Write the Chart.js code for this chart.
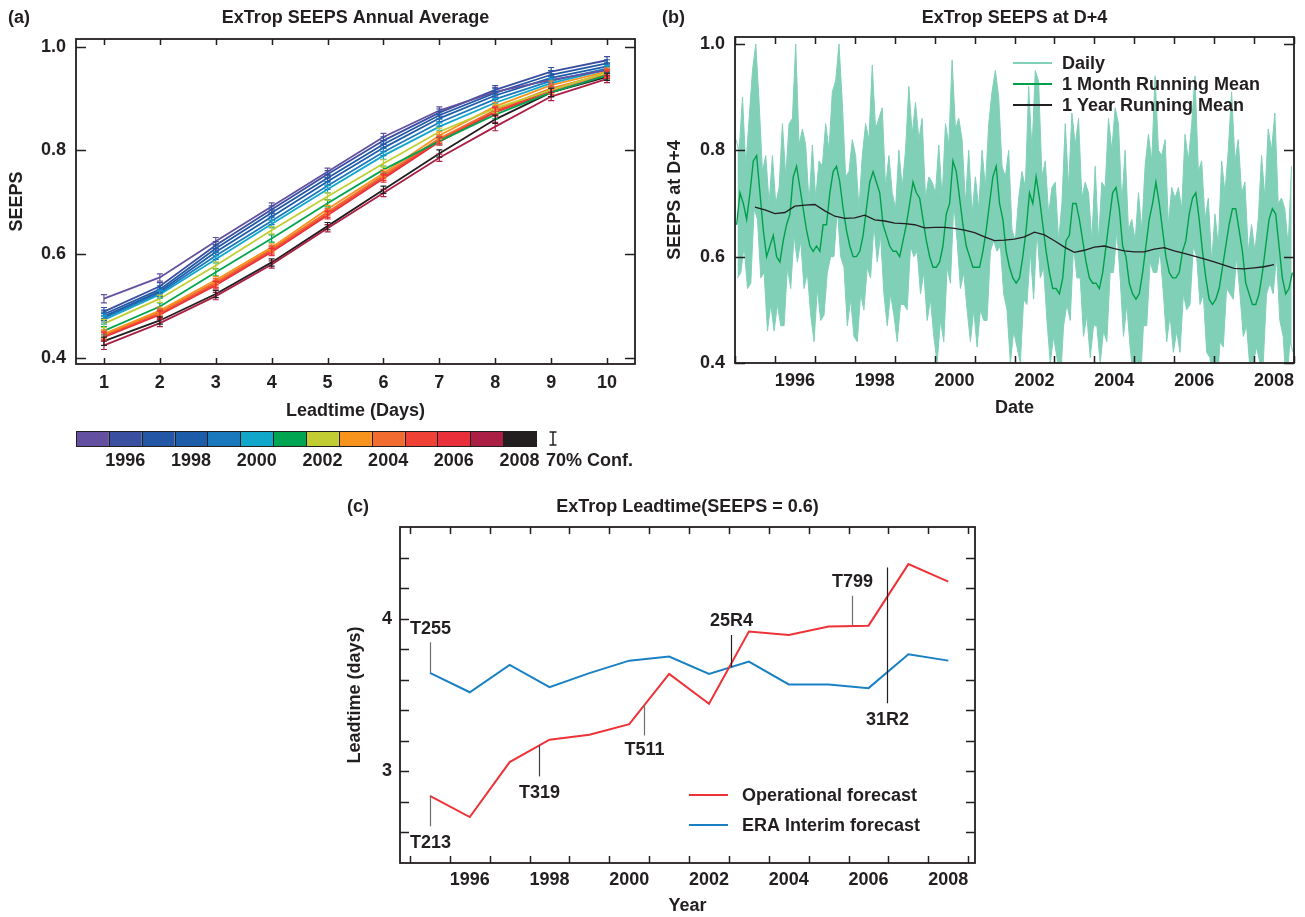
<!DOCTYPE html>
<html>
<head>
<meta charset="utf-8">
<title>ExTrop SEEPS</title>
<script src="https://cdn.jsdelivr.net/npm/chart.js@4.4.0/dist/chart.umd.min.js"></script>
<style>
  html, body { margin: 0; padding: 0; background: #ffffff; }
  body { width: 1305px; height: 917px; position: relative; overflow: hidden; }
  canvas { position: absolute; }
</style>
</head>
<body>
<canvas id="annualChart" width="660" height="480" style="left:0;top:0"></canvas>
<canvas id="dailyChart" width="645" height="430" style="left:660px;top:0"></canvas>
<canvas id="leadtimeChart" width="660" height="427" style="left:330px;top:490px"></canvas>
<script>
// ---------- (a) annual average SEEPS by lead time ----------
const leadDays = [1, 2, 3, 4, 5, 6, 7, 8, 9, 10];
const seasonYears = [1995, 1996, 1997, 1998, 1999, 2000, 2001, 2002, 2003, 2004, 2005, 2006, 2007, 2008];
const yearColors = ["#6350a1", "#3b4fa0", "#2357a6", "#1d5ca9", "#1a78bd", "#11a7cb", "#00a551",
    "#c1cd32", "#f7941e", "#f26b2f", "#ef4136", "#e9303a", "#aa1f43", "#231f20"];
const seeps1995 = [0.514, 0.555, 0.625, 0.692, 0.759, 0.826, 0.877, 0.913, 0.936, 0.955];
const seeps1996 = [0.489, 0.538, 0.617, 0.686, 0.754, 0.819, 0.873, 0.917, 0.952, 0.974];
const seeps1997 = [0.484, 0.532, 0.611, 0.680, 0.747, 0.812, 0.868, 0.911, 0.946, 0.968];
const seeps1998 = [0.480, 0.528, 0.604, 0.672, 0.740, 0.805, 0.862, 0.906, 0.940, 0.962];
const seeps1999 = [0.477, 0.525, 0.597, 0.664, 0.732, 0.797, 0.854, 0.899, 0.934, 0.958];
const seeps2000 = [0.473, 0.522, 0.590, 0.658, 0.725, 0.790, 0.846, 0.892, 0.930, 0.956];
const seeps2001 = [0.452, 0.499, 0.565, 0.630, 0.698, 0.763, 0.818, 0.869, 0.912, 0.945];
const seeps2002 = [0.466, 0.514, 0.578, 0.646, 0.711, 0.775, 0.836, 0.881, 0.917, 0.950];
const seeps2003 = [0.446, 0.491, 0.550, 0.613, 0.687, 0.756, 0.829, 0.885, 0.926, 0.952];
const seeps2004 = [0.444, 0.488, 0.546, 0.610, 0.681, 0.752, 0.823, 0.878, 0.920, 0.948];
const seeps2005 = [0.442, 0.485, 0.543, 0.607, 0.678, 0.749, 0.820, 0.876, 0.916, 0.950];
const seeps2006 = [0.440, 0.483, 0.540, 0.604, 0.675, 0.746, 0.817, 0.874, 0.912, 0.946];
const seeps2007 = [0.424, 0.467, 0.519, 0.580, 0.650, 0.718, 0.786, 0.846, 0.904, 0.938];
const seeps2008 = [0.432, 0.472, 0.523, 0.584, 0.654, 0.724, 0.794, 0.860, 0.912, 0.942];
const annualSeries = [seeps1995, seeps1996, seeps1997, seeps1998, seeps1999, seeps2000, seeps2001,
    seeps2002, seeps2003, seeps2004, seeps2005, seeps2006, seeps2007, seeps2008];
// half width of the 70% confidence interval per lead day
const confHalfWidth = [0.008, 0.007, 0.007, 0.007, 0.007, 0.007, 0.007, 0.008, 0.008, 0.007];
const seepsTicks = [0.4, 0.6, 0.8, 1.0];
const colorbarLabels = [1996, 1998, 2000, 2002, 2004, 2006, 2008];

// ---------- (b) SEEPS at D+4 time series ----------
const seriesStart = 1995;
// two samples per month (peak, dip) of the daily score
const dailySeeps = [
    0.82,0.56, 0.80,0.57, 0.90,0.62, 0.77,0.54, 0.86,0.55, 0.95,0.69, 1.00,0.67, 0.89,0.56, 0.76,0.57, 0.79,0.46, 0.70,0.51, 0.79,0.46,
    0.70,0.51, 0.73,0.47, 0.85,0.47, 0.75,0.58, 0.85,0.54, 0.86,0.64, 1.00,0.59, 0.81,0.63, 0.84,0.54, 0.81,0.57, 0.70,0.49, 0.81,0.44,
    0.71,0.54, 0.78,0.48, 0.77,0.49, 0.85,0.57, 0.80,0.60, 0.91,0.60, 0.93,0.69, 1.00,0.60, 0.89,0.58, 0.75,0.47, 0.76,0.52, 0.82,0.45,
    0.79,0.44, 0.69,0.53, 0.79,0.50, 0.85,0.58, 0.82,0.56, 0.96,0.66, 0.84,0.59, 0.86,0.64, 0.88,0.53, 0.73,0.47, 0.79,0.53, 0.72,0.49,
    0.69,0.44, 0.80,0.51, 0.73,0.51, 0.80,0.50, 0.92,0.62, 0.83,0.60, 0.89,0.61, 0.82,0.53, 0.86,0.57, 0.71,0.48, 0.75,0.52, 0.74,0.45,
    0.72,0.40, 0.81,0.48, 0.71,0.44, 0.85,0.58, 0.81,0.55, 0.97,0.70, 0.84,0.63, 0.86,0.54, 0.82,0.57, 0.70,0.50, 0.80,0.44, 0.68,0.50,
    0.75,0.43, 0.69,0.50, 0.80,0.48, 0.73,0.48, 0.85,0.61, 0.91,0.63, 0.95,0.61, 0.90,0.62, 0.77,0.53, 0.75,0.50, 0.80,0.40, 0.65,0.46,
    0.63,0.43, 0.71,0.40, 0.76,0.52, 0.73,0.51, 0.92,0.61, 0.80,0.52, 0.95,0.65, 0.93,0.56, 0.75,0.58, 0.78,0.48, 0.68,0.40, 0.73,0.45,
    0.74,0.41, 0.63,0.36, 0.70,0.47, 0.85,0.51, 0.73,0.48, 0.87,0.62, 0.81,0.56, 0.86,0.56, 0.71,0.45, 0.74,0.49, 0.72,0.41, 0.63,0.47,
    0.77,0.47, 0.63,0.40, 0.74,0.46, 0.73,0.44, 0.86,0.57, 0.80,0.57, 0.88,0.65, 0.85,0.56, 0.70,0.45, 0.80,0.51, 0.65,0.43, 0.67,0.37,
    0.63,0.41, 0.72,0.35, 0.65,0.47, 0.77,0.47, 0.83,0.59, 0.78,0.57, 0.94,0.57, 0.80,0.61, 0.79,0.53, 0.82,0.44, 0.66,0.49, 0.73,0.42,
    0.71,0.46, 0.73,0.42, 0.69,0.53, 0.83,0.50, 0.78,0.51, 0.85,0.62, 0.94,0.60, 0.76,0.51, 0.78,0.53, 0.67,0.42, 0.71,0.41, 0.59,0.33,
    0.68,0.34, 0.62,0.44, 0.78,0.43, 0.72,0.54, 0.80,0.53, 0.91,0.52, 0.78,0.60, 0.82,0.53, 0.72,0.45, 0.74,0.47, 0.61,0.39, 0.66,0.40,
    0.61,0.43, 0.67,0.40, 0.79,0.40, 0.71,0.53, 0.84,0.55, 0.80,0.53, 0.87,0.60, 0.70,0.48, 0.71,0.45, 0.69,0.35, 0.62,0.44, 0.77,0.42
];
// 1 month running mean, one value per month
const monthlyMean = [
    0.66,0.72,0.70,0.67,0.72,0.78,0.79,0.72,0.65,0.60,0.62,0.64,
    0.60,0.59,0.63,0.66,0.68,0.75,0.77,0.73,0.69,0.65,0.62,0.61,
    0.62,0.61,0.66,0.66,0.72,0.76,0.77,0.74,0.69,0.65,0.62,0.60,
    0.60,0.61,0.64,0.69,0.74,0.76,0.74,0.72,0.66,0.64,0.62,0.61,
    0.61,0.60,0.63,0.66,0.70,0.74,0.72,0.71,0.67,0.63,0.60,0.58,
    0.58,0.59,0.62,0.68,0.70,0.78,0.76,0.71,0.66,0.62,0.60,0.58,
    0.58,0.58,0.61,0.65,0.70,0.75,0.77,0.70,0.67,0.61,0.58,0.56,
    0.55,0.56,0.60,0.65,0.72,0.70,0.75,0.71,0.66,0.61,0.57,0.54,
    0.54,0.53,0.56,0.63,0.64,0.70,0.70,0.67,0.63,0.59,0.56,0.55,
    0.55,0.54,0.57,0.62,0.67,0.72,0.73,0.69,0.62,0.60,0.55,0.53,
    0.52,0.53,0.57,0.62,0.67,0.70,0.74,0.70,0.65,0.60,0.57,0.56,
    0.56,0.57,0.61,0.63,0.68,0.71,0.72,0.67,0.61,0.56,0.52,0.51,
    0.52,0.54,0.58,0.62,0.66,0.69,0.69,0.65,0.61,0.55,0.53,0.51,
    0.51,0.53,0.57,0.62,0.67,0.69,0.68,0.62,0.56,0.53,0.54,0.57
];
// 1 year running mean, quarterly from mid 1995
const yearlyStart = 1995.5;
const yearlyMean = [
    0.693, 0.688, 0.681, 0.683, 0.695, 0.697, 0.698, 0.686, 0.676, 0.672, 0.673, 0.678, 0.669, 0.667,
    0.663, 0.662, 0.660, 0.654, 0.655, 0.655, 0.653, 0.650, 0.645, 0.637, 0.630, 0.631, 0.633, 0.637,
    0.646, 0.641, 0.630, 0.618, 0.608, 0.612, 0.618, 0.620, 0.615, 0.611, 0.609, 0.609, 0.614, 0.617,
    0.611, 0.606, 0.601, 0.596, 0.590, 0.584, 0.578, 0.577, 0.579, 0.581, 0.585
];
const yearBounds = [1995, 1996, 1997, 1998, 1999, 2000, 2001, 2002, 2003, 2004, 2005, 2006, 2007, 2008, 2009];
const yearLabels = [1996, 1998, 2000, 2002, 2004, 2006, 2008];

// ---------- (c) lead time at which SEEPS = 0.6 ----------
const forecastYears = [1995, 1996, 1997, 1998, 1999, 2000, 2001, 2002, 2003, 2004, 2005, 2006, 2007, 2008];
const operationalLead = [2.839, 2.701, 3.061, 3.207, 3.240, 3.309, 3.638, 3.442, 3.915, 3.893, 3.948, 3.954, 4.357, 4.242];
const eraInterimLead = [3.645, 3.518, 3.697, 3.551, 3.643, 3.725, 3.752, 3.638, 3.719, 3.569, 3.569, 3.545, 3.767, 3.725];
const leadMinorTicks = [2.6, 2.8, 3.0, 3.2, 3.4, 3.6, 3.8, 4.0, 4.2, 4.4];
const leadLabels = [3, 4];
// model changes: name, date, marker line extent and label height (days)
const changeNames = ["T213", "T255", "T319", "T511", "25R4", "T799", "31R2"];
const changeDates = [1995.5, 1995.5, 1998.24, 2000.88, 2003.04, 2006.08, 2006.96];
const changeLineFrom = [2.839, 3.645, 3.170, 3.434, 3.893, 4.150, 4.335];
const changeLineTo = [2.640, 3.845, 2.967, 3.235, 3.682, 3.954, 3.446];
const changeTextAt = [2.529, 3.935, 2.856, 3.137, 3.987, 4.242, 3.333];
const changeLineColors = ["#6d6e71", "#6d6e71", "#414042", "#6d6e71", "#231f20", "#6d6e71", "#231f20"];

const ink = "#231f20";
const dailyGreen = "#80d0b8";
const monthGreen = "#00a04b";
const fontFamily = "'Liberation Sans', Arial, Helvetica, sans-serif";
const boldFont = "bold 18px " + fontFamily;

Chart.defaults.font.family = fontFamily;
Chart.defaults.font.size = 18;
Chart.defaults.font.weight = "bold";
Chart.defaults.color = ink;
Chart.defaults.animation = false;

// Box around the plot with inward ticks on all four sides
const framePlugin = {
    id: "frame",
    afterDatasetsDraw(chart, args, opts) {
        const { ctx, chartArea: a, scales } = chart;
        ctx.save();
        ctx.strokeStyle = ink;
        ctx.lineWidth = 1.5;
        ctx.beginPath();
        opts.xTicks.forEach((v) => {
            const x = Math.round(scales.x.getPixelForValue(v)) + 0.5;
            ctx.moveTo(x, a.bottom); ctx.lineTo(x, a.bottom - opts.xLen);
            ctx.moveTo(x, a.top); ctx.lineTo(x, a.top + opts.xLen);
        });
        opts.yTicks.forEach((v) => {
            const y = Math.round(scales.y.getPixelForValue(v)) + 0.5;
            ctx.moveTo(a.left, y); ctx.lineTo(a.left + opts.yLen, y);
            ctx.moveTo(a.right, y); ctx.lineTo(a.right - opts.yLen, y);
        });
        ctx.stroke();
        ctx.lineWidth = 1.8;
        ctx.strokeRect(a.left, a.top, a.right - a.left, a.bottom - a.top);
        ctx.restore();
    }
};

// Panel letter and centred title above the plot
const headingPlugin = {
    id: "heading",
    afterDraw(chart, args, opts) {
        const { ctx, chartArea: a } = chart;
        ctx.save();
        ctx.fillStyle = ink;
        ctx.font = boldFont;
        ctx.textBaseline = "middle";
        ctx.textAlign = "center";
        ctx.fillText(opts.title, (a.left + a.right) / 2, opts.y);
        ctx.textAlign = "left";
        ctx.fillText(opts.letter, opts.letterX, opts.y);
        ctx.restore();
    }
};

// Line samples with labels, placed inside the plot
const lineKeyPlugin = {
    id: "lineKey",
    afterDatasetsDraw(chart, args, opts) {
        const { ctx } = chart;
        ctx.save();
        ctx.font = opts.font || boldFont;
        ctx.textBaseline = "middle";
        ctx.textAlign = "left";
        opts.items.forEach((item, i) => {
            const y = opts.rows[i];
            ctx.strokeStyle = item.color;
            ctx.lineWidth = 2;
            ctx.beginPath();
            ctx.moveTo(opts.x, y);
            ctx.lineTo(opts.x + opts.len, y);
            ctx.stroke();
            ctx.fillStyle = ink;
            ctx.fillText(item.text, opts.textX, y + 1);
        });
        ctx.restore();
    }
};

// 70% confidence bars on every annual point
const confBarPlugin = {
    id: "confBars",
    afterDatasetsDraw(chart) {
        const { ctx, scales: { x, y } } = chart;
        ctx.save();
        ctx.lineWidth = 1.2;
        annualSeries.forEach((series, i) => {
            ctx.strokeStyle = yearColors[i];
            ctx.beginPath();
            series.forEach((v, d) => {
                const px = x.getPixelForValue(leadDays[d]);
                const lo = y.getPixelForValue(v - confHalfWidth[d]);
                const hi = y.getPixelForValue(v + confHalfWidth[d]);
                ctx.moveTo(px, lo); ctx.lineTo(px, hi);
                ctx.moveTo(px - 3, lo); ctx.lineTo(px + 3, lo);
                ctx.moveTo(px - 3, hi); ctx.lineTo(px + 3, hi);
            });
            ctx.stroke();
        });
        ctx.restore();
    }
};

// Colour key for the years under panel (a)
const colorbarPlugin = {
    id: "colorbar",
    afterDraw(chart) {
        const { ctx } = chart;
        const left = 76, right = 536, top = 431, bottom = 446;
        const w = (right - left) / seasonYears.length;
        ctx.save();
        seasonYears.forEach((yr, i) => {
            ctx.fillStyle = yearColors[i];
            ctx.fillRect(left + i * w, top, w, bottom - top);
        });
        ctx.strokeStyle = ink;
        ctx.lineWidth = 1;
        ctx.beginPath();
        for (let i = 1; i < seasonYears.length; i++) {
            const x = Math.round(left + i * w) + 0.5;
            ctx.moveTo(x, top); ctx.lineTo(x, bottom);
        }
        ctx.stroke();
        ctx.strokeRect(left + 0.5, top + 0.5, right - left, bottom - top);

        ctx.fillStyle = ink;
        ctx.font = boldFont;
        ctx.textAlign = "center";
        ctx.textBaseline = "middle";
        colorbarLabels.forEach((yr) => {
            const i = seasonYears.indexOf(yr);
            ctx.fillText(String(yr), left + (i + 0.5) * w, 461);
        });

        // confidence interval symbol
        ctx.lineWidth = 1.5;
        ctx.beginPath();
        ctx.moveTo(553, 432); ctx.lineTo(553, 445);
        ctx.moveTo(549.5, 432); ctx.lineTo(556.5, 432);
        ctx.moveTo(549.5, 445); ctx.lineTo(556.5, 445);
        ctx.stroke();
        ctx.textAlign = "left";
        ctx.fillText("70% Conf.", 546, 461);
        ctx.restore();
    }
};

// Marker lines and names for model changes
const changesPlugin = {
    id: "changes",
    afterDatasetsDraw(chart) {
        const { ctx, scales: { x, y } } = chart;
        ctx.save();
        ctx.font = boldFont;
        ctx.textAlign = "center";
        ctx.textBaseline = "middle";
        changeNames.forEach((name, i) => {
            const px = Math.round(x.getPixelForValue(changeDates[i])) + 0.5;
            ctx.strokeStyle = changeLineColors[i];
            ctx.lineWidth = 1.2;
            ctx.beginPath();
            ctx.moveTo(px, y.getPixelForValue(changeLineFrom[i]));
            ctx.lineTo(px, y.getPixelForValue(changeLineTo[i]));
            ctx.stroke();
            ctx.fillStyle = ink;
            ctx.fillText(name, px, y.getPixelForValue(changeTextAt[i]));
        });
        ctx.restore();
    }
};

function fixedTicks(values) {
    return (scale) => {
        scale.ticks = values.map((v) => ({ value: v }));
    };
}

function plainAxis(extra) {
    return Object.assign({
        type: "linear",
        grid: { display: false, drawTicks: false },
        border: { display: false },
    }, extra);
}

// Panel (a)
new Chart(document.getElementById("annualChart"), {
    type: "line",
    data: {
        datasets: annualSeries.map((series, i) => ({
            label: String(seasonYears[i]),
            data: series.map((v, d) => ({ x: leadDays[d], y: v })),
            borderColor: yearColors[i],
            borderWidth: 1.8,
            pointRadius: 0,
            tension: 0,
        })),
    },
    options: {
        responsive: false,
        layout: { padding: { left: 0, top: 39, right: 25, bottom: 58 } },
        plugins: {
            legend: { display: false },
            tooltip: { enabled: false },
            heading: { title: "ExTrop SEEPS Annual Average", letter: "(a)", letterX: 8, y: 18 },
            frame: { xTicks: leadDays, yTicks: seepsTicks, xLen: 6, yLen: 10 },
        },
        scales: {
            x: plainAxis({
                min: 0.5, max: 10.5,
                afterBuildTicks: fixedTicks(leadDays),
                afterFit: (s) => { s.height = 58; },
                ticks: { padding: 8, autoSkip: false, maxRotation: 0, callback: (v) => String(v) },
                title: { display: true, text: "Leadtime (Days)", padding: { top: 0, bottom: 0 } },
            }),
            y: plainAxis({
                min: 0.388, max: 1.015,
                afterBuildTicks: fixedTicks(seepsTicks),
                afterFit: (s) => { s.width = 76; },
                ticks: { padding: 10, callback: (v) => v.toFixed(1) },
                title: { display: true, text: "SEEPS", padding: { top: 6, bottom: 0 } },
            }),
        },
    },
    plugins: [confBarPlugin, framePlugin, headingPlugin, colorbarPlugin],
});

// Panel (b): daily peaks and dips bound a filled band
const dailyPeaks = [];
const dailyDips = [];
dailySeeps.forEach((v, i) => {
    const pt = { x: seriesStart + (i + 0.5) / 24, y: v };
    (i % 2 === 0 ? dailyPeaks : dailyDips).push(pt);
});
const monthlyPoints = monthlyMean.map((v, i) => ({ x: seriesStart + (i + 0.5) / 12, y: v }));
const yearlyPoints = yearlyMean.map((v, i) => ({ x: yearlyStart + i * 0.25, y: v }));

new Chart(document.getElementById("dailyChart"), {
    type: "line",
    data: {
        datasets: [
            { label: "Daily", data: dailyPeaks, borderColor: dailyGreen, borderWidth: 1, pointRadius: 0,
              fill: false, order: 4 },
            { label: "Daily", data: dailyDips, borderColor: dailyGreen, borderWidth: 1, pointRadius: 0,
              fill: "-1", backgroundColor: dailyGreen, order: 3 },
            { label: "1 Month Running Mean", data: monthlyPoints, borderColor: monthGreen, borderWidth: 1.4,
              pointRadius: 0, order: 2 },
            { label: "1 Year Running Mean", data: yearlyPoints, borderColor: ink, borderWidth: 1.3,
              pointRadius: 0, order: 1 },
        ],
    },
    options: {
        responsive: false,
        layout: { padding: { left: 0, top: 37, right: 11, bottom: 11 } },
        plugins: {
            legend: { display: false },
            tooltip: { enabled: false },
            heading: { title: "ExTrop SEEPS at D+4", letter: "(b)", letterX: 2, y: 18 },
            frame: { xTicks: yearBounds, yTicks: seepsTicks, xLen: 7, yLen: 10 },
            lineKey: {
                x: 353, len: 39, textX: 402, rows: [63, 84, 105],
                items: [
                    { text: "Daily", color: dailyGreen },
                    { text: "1 Month Running Mean", color: monthGreen },
                    { text: "1 Year Running Mean", color: ink },
                ],
            },
        },
        scales: {
            x: plainAxis({
                min: 1995, max: 2009,
                afterBuildTicks: fixedTicks(yearLabels.map((yr) => yr + 0.5)),
                afterFit: (s) => { s.height = 56; },
                ticks: { padding: 7, autoSkip: false, maxRotation: 0, callback: (v) => String(v - 0.5) },
                title: { display: true, text: "Date", padding: { top: 0, bottom: 0 } },
            }),
            y: plainAxis({
                min: 0.4, max: 1.013,
                afterBuildTicks: fixedTicks(seepsTicks),
                afterFit: (s) => { s.width = 75; },
                ticks: { padding: 10, callback: (v) => v.toFixed(1) },
                title: { display: true, text: "SEEPS at D+4", padding: { top: 4, bottom: 0 } },
            }),
        },
    },
    plugins: [framePlugin, lineKeyPlugin, headingPlugin],
});

// Panel (c)
new Chart(document.getElementById("leadtimeChart"), {
    type: "line",
    data: {
        datasets: [
            {
                label: "Operational forecast",
                data: operationalLead.map((v, i) => ({ x: forecastYears[i] + 0.5, y: v })),
                borderColor: "#ee3338", borderWidth: 2, pointRadius: 0,
            },
            {
                label: "ERA Interim forecast",
                data: eraInterimLead.map((v, i) => ({ x: forecastYears[i] + 0.5, y: v })),
                borderColor: "#1a80c4", borderWidth: 2, pointRadius: 0,
            },
        ],
    },
    options: {
        responsive: false,
        layout: { padding: { left: 0, top: 37, right: 15, bottom: 0 } },
        plugins: {
            legend: { display: false },
            tooltip: { enabled: false },
            heading: { title: "ExTrop Leadtime(SEEPS = 0.6)", letter: "(c)", letterX: 17, y: 17 },
            frame: { xTicks: yearBounds, yTicks: leadMinorTicks, xLen: 7, yLen: 9 },
            lineKey: {
                x: 359, len: 39, textX: 412, rows: [305, 335],
                items: [
                    { text: "Operational forecast", color: "#ee3338" },
                    { text: "ERA Interim forecast", color: "#1a80c4" },
                ],
            },
        },
        scales: {
            x: plainAxis({
                min: 1994.75, max: 2009.17,
                afterBuildTicks: fixedTicks(yearLabels.map((yr) => yr + 0.5)),
                afterFit: (s) => { s.height = 54; },
                ticks: { padding: 6, autoSkip: false, maxRotation: 0, callback: (v) => String(v - 0.5) },
                title: { display: true, text: "Year", padding: { top: 0, bottom: 0 } },
            }),
            y: plainAxis({
                min: 2.4, max: 4.6,
                afterBuildTicks: fixedTicks(leadLabels),
                afterFit: (s) => { s.width = 70; },
                ticks: { padding: 8, callback: (v) => String(v) },
                title: { display: true, text: "Leadtime (days)", padding: { top: 14, bottom: 0 } },
            }),
        },
    },
    plugins: [changesPlugin, framePlugin, lineKeyPlugin, headingPlugin],
});
</script>
</body>
</html>
